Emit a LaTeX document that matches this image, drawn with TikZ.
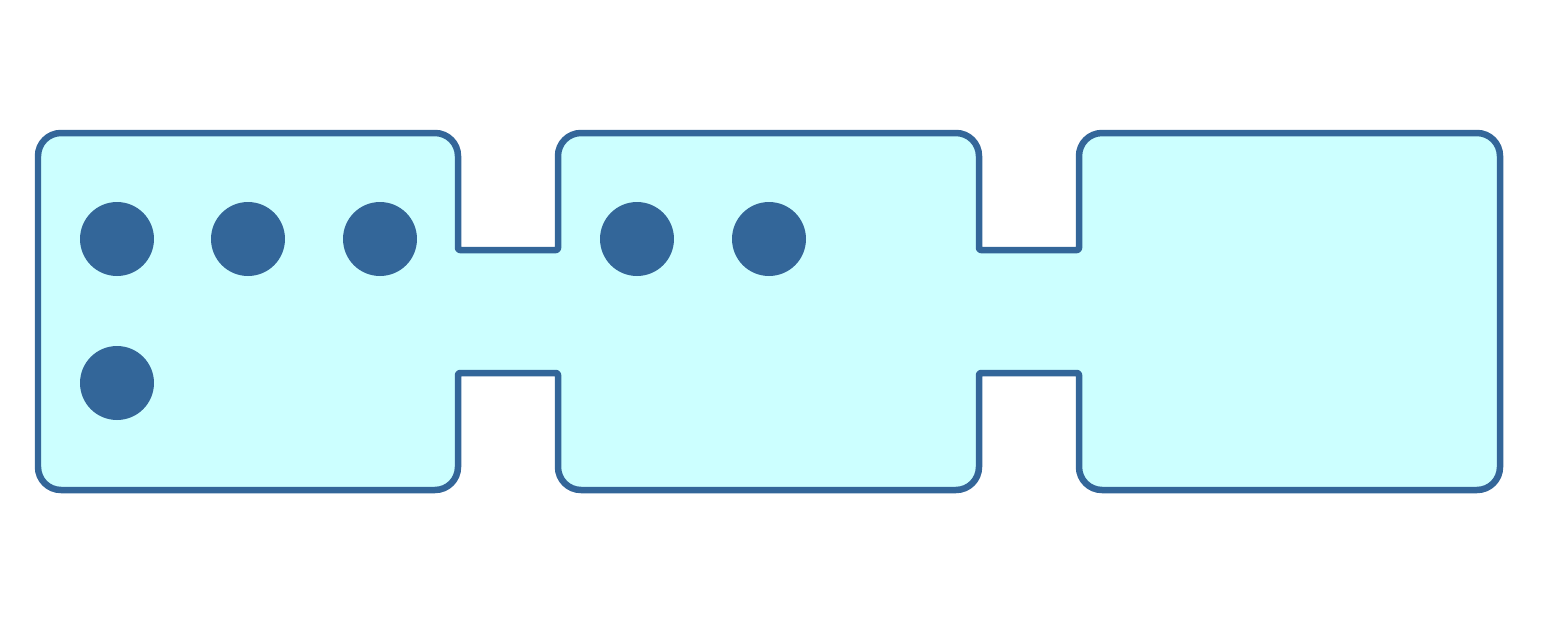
\documentclass[tikz,border=0pt]{standalone}
\definecolor{wallblue}{HTML}{336699}
\definecolor{cellcyan}{HTML}{CCFFFF}
\begin{document}
\begin{tikzpicture}[x=0.02cm, y=-0.02cm,
    wall/.style={draw=wallblue, line width=0.13cm, fill=cellcyan, line join=round},
    ball/.style={circle, fill=wallblue, minimum size=1.48cm, inner sep=0pt}]
    \useasboundingbox (0,0) rectangle (1549,633);
      %%outline
      \draw[wall] (38,311)
        [rounded corners=0.46cm] -- (38,133) -- (458,133)
        [rounded corners=0.04cm] -- (458,250) -- (558,250)
        [rounded corners=0.46cm] -- (558,133) -- (979,133)
        [rounded corners=0.04cm] -- (979,250) -- (1079,250)
        [rounded corners=0.46cm] -- (1079,133) -- (1500,133) -- (1500,490) -- (1079,490)
        [rounded corners=0.04cm] -- (1079,373) -- (979,373)
        [rounded corners=0.46cm] -- (979,490) -- (558,490)
        [rounded corners=0.04cm] -- (558,373) -- (458,373)
        [rounded corners=0.46cm] -- (458,490) -- (38,490) -- cycle;
      %%balls
      \node[ball] (b1) at (117,239) {};
      \node[ball] (b2) at (248,239) {};
      \node[ball] (b3) at (380,239) {};
      \node[ball] (b4) at (117,383) {};
      \node[ball] (b5) at (637,239) {};
      \node[ball] (b6) at (769,239) {};
\end{tikzpicture}
\end{document}
